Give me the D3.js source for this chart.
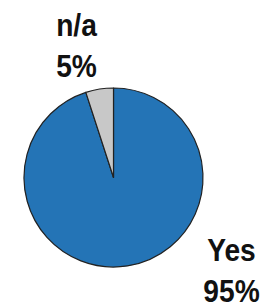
<!DOCTYPE html>
<html><head><meta charset="utf-8">
<script src="https://cdn.jsdelivr.net/npm/d3@7"></script>
<style>html,body{margin:0;padding:0;background:#fff;}svg{display:block;}</style>
</head><body>
<svg id="c" width="261" height="308"></svg>
<script>
const categories = ["Yes", "n/a"];
const values = [95, 5];
const valueLabels = ["95%", "5%"];
const colors = ["#2474b6", "#c8c8c8"];

const svg = d3.select("#c");
const cx = 113.5, cy = 177.5, r = 89.5;
const g = svg.append("g").attr("transform", `translate(${cx},${cy})`);
const pie = d3.pie().sort(null).value(d => d)(values);
const arc = d3.arc().innerRadius(0).outerRadius(r);
g.selectAll("path").data(pie).join("path")
  .attr("d", arc)
  .attr("fill", (d, i) => colors[i])
  .attr("stroke", "#222")
  .attr("stroke-width", 1.2)
  .attr("stroke-linejoin", "round");

// label positions (absolute)
const labelPos = [[231.5, 261], [76.5, 36]];
categories.forEach((c, i) => {
  const t = svg.append("text")
    .attr("transform", `translate(${labelPos[i][0]},${labelPos[i][1]}) scale(0.88,1)`)
    .attr("text-anchor", "middle")
    .attr("font-family", "'Liberation Sans', Arial, sans-serif")
    .attr("font-weight", "bold")
    .attr("font-size", 32)
    .attr("fill", "#111");
  t.append("tspan").attr("x", 0).attr("y", 0).text(c);
  t.append("tspan").attr("x", 0).attr("y", 41).text(valueLabels[i]);
});
</script>
</body></html>
